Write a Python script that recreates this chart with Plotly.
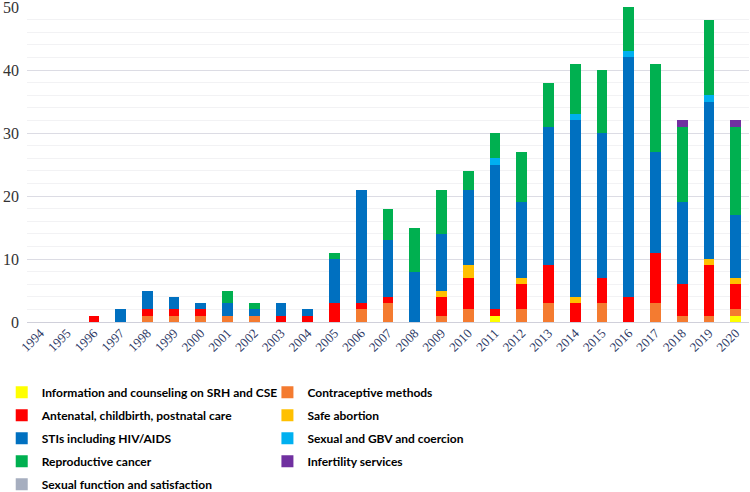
import plotly.graph_objects as go

years = [str(y) for y in range(1994, 2021)]

info_cse    = [0,0,0,0,0,0,0,0,0,0,0,0,0,0,0,0,0,1,0,0,0,0,0,0,0,0,1]
contracept  = [0,0,0,0,1,1,1,1,1,0,0,0,2,3,0,1,2,0,2,3,0,3,0,3,1,1,1]
antenatal   = [0,0,1,0,1,1,1,0,0,1,1,3,1,1,0,3,5,1,4,6,3,4,4,8,5,8,4]
safe_abort  = [0,0,0,0,0,0,0,0,0,0,0,0,0,0,0,1,2,0,1,0,1,0,0,0,0,1,1]
stis        = [0,0,0,2,3,2,1,2,1,2,1,7,18,9,8,9,12,23,12,22,28,23,38,16,13,25,10]
gbv         = [0,0,0,0,0,0,0,0,0,0,0,0,0,0,0,0,0,1,0,0,1,0,1,0,0,1,0]
repro_canc  = [0,0,0,0,0,0,0,2,1,0,0,1,0,5,7,7,3,4,8,7,8,10,7,14,12,12,14]
infertility = [0,0,0,0,0,0,0,0,0,0,0,0,0,0,0,0,0,0,0,0,0,0,0,0,1,0,1]
sex_func    = [0]*27

series = [
    ("Information and counseling on SRH and CSE", info_cse, "#FFFF00"),
    ("Contraceptive methods", contracept, "#F47B30"),
    ("Antenatal, childbirth, postnatal care", antenatal, "#FF0000"),
    ("Safe abortion", safe_abort, "#FFC000"),
    ("STIs including HIV/AIDS", stis, "#0070C0"),
    ("Sexual and GBV and coercion", gbv, "#00B0F0"),
    ("Reproductive cancer", repro_canc, "#00B050"),
    ("Infertility services", infertility, "#7030A0"),
    ("Sexual function and satisfaction", sex_func, "#A6AEBF"),
]

fig = go.Figure()
for i, (name, vals, col) in enumerate(series):
    fig.add_trace(go.Bar(
        x=years, y=vals, name=name, legendgroup=f"g{i}",
        legend="legend" if i % 2 == 0 else "legend2",
        marker=dict(color=col, line=dict(width=0)),
    ))

legfont = dict(family="Lato, sans-serif", size=12, color="#000000", weight="bold")

fig.update_layout(
    barmode="stack",
    bargap=0.6,
    width=750, height=492,
    margin=dict(l=27, r=1, t=7, b=170, autoexpand=False),
    plot_bgcolor="white", paper_bgcolor="white",
    legend=dict(
        orientation="v", x=-0.035, xanchor="left", y=-0.177, yanchor="top",
        font=legfont, traceorder="grouped", tracegroupgap=4, itemwidth=30,
        bgcolor="rgba(0,0,0,0)",
    ),
    legend2=dict(
        orientation="v", x=0.333, xanchor="left", y=-0.177, yanchor="top",
        font=legfont, traceorder="grouped", tracegroupgap=4, itemwidth=30,
        bgcolor="rgba(0,0,0,0)",
    ),
    xaxis=dict(
        type="category", tickangle=-45, automargin=False,
        tickfont=dict(family="Liberation Serif, Times New Roman, serif", size=13, color="#2E3A66"),
        showgrid=False, ticks="", showline=False,
    ),
    yaxis=dict(
        range=[0, 50], dtick=10, showgrid=True, gridcolor="#DCDCE4", gridwidth=1,
        automargin=False, ticklabeloverflow="allow",
        tickfont=dict(family="Liberation Serif, Times New Roman, serif", size=16, color="#333333"),
        zeroline=True, zerolinecolor="#D0D0DA", zerolinewidth=1,
        minor=dict(dtick=2, showgrid=True, gridcolor="#F2F2F4", gridwidth=1),
        ticklabelstandoff=7,
    ),
)

fig.write_html("out.html", config={"displayModeBar": False},
               post_script="document.body.style.margin='0px';")
